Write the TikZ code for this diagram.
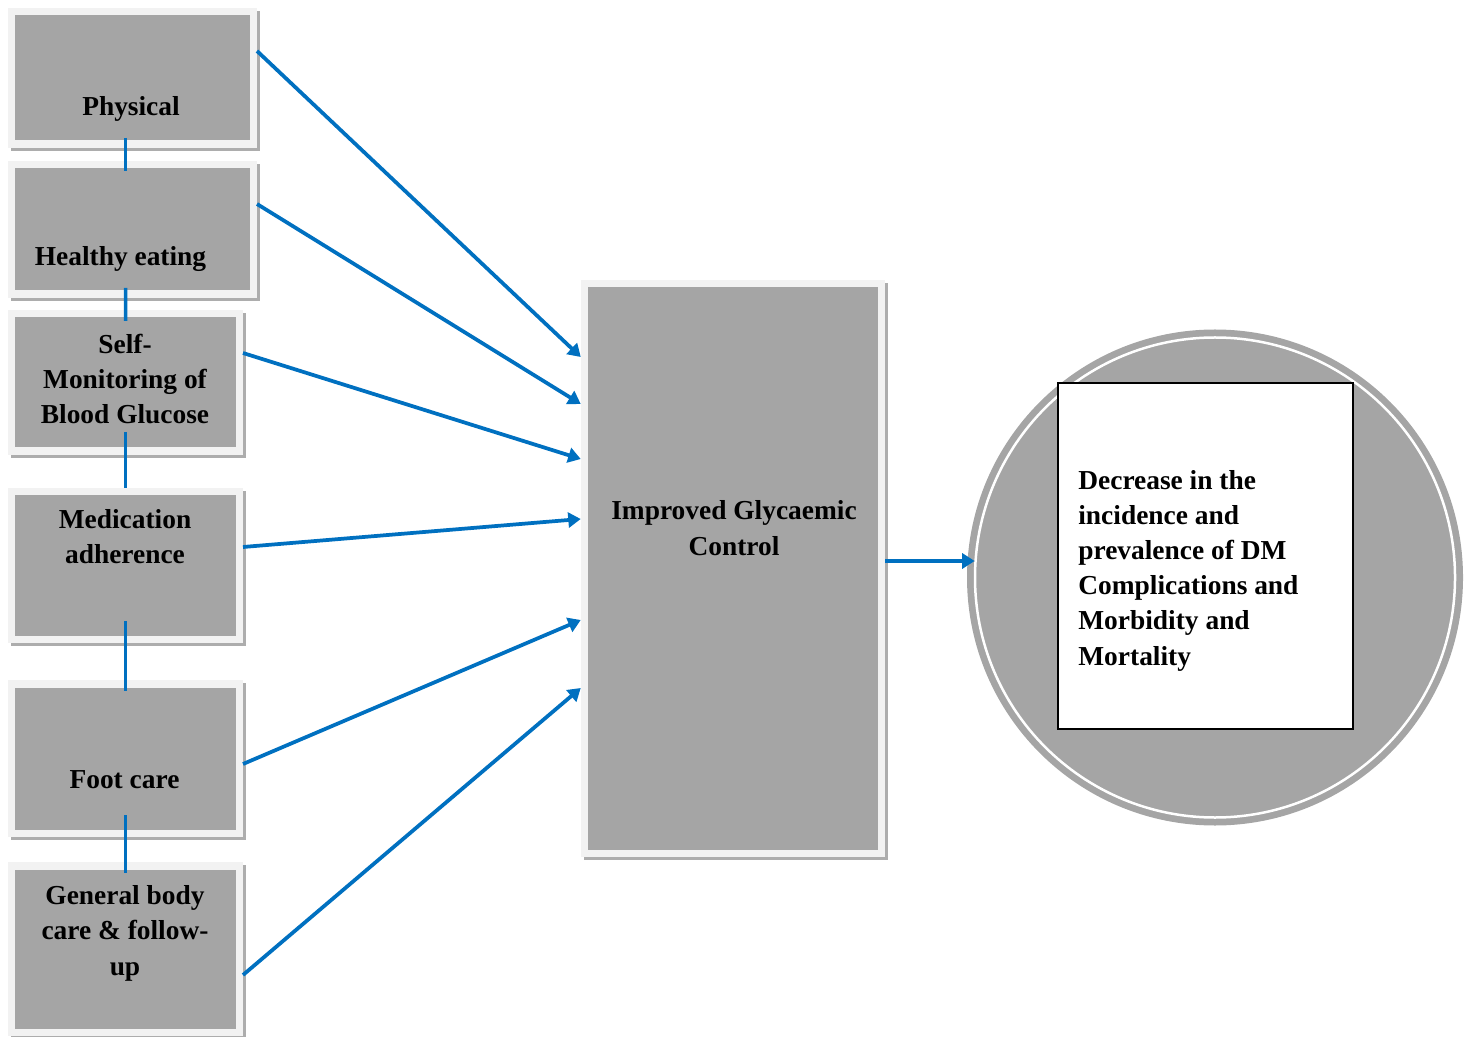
\documentclass[tikz,border=0pt]{standalone}
\usepackage{fontspec}
\setmainfont{Liberation Serif}
\usetikzlibrary{arrows.meta, shadows}

\definecolor{boxgray}{HTML}{A5A5A5}
\definecolor{boxrim}{HTML}{F2F2F2}
\definecolor{boxshade}{HTML}{ADADAD}
\definecolor{linkblue}{HTML}{0070C0}

\tikzset{
  carebox/.style={rectangle, fill=boxgray, draw=boxrim, line width=0.15cm, inner sep=0pt,
    drop shadow={shadow xshift=0.06cm, shadow yshift=-0.06cm, opacity=1,
      fill=boxshade, draw=boxshade, line width=0.15cm}},
  boxtext/.style={font=\fontsize{15.6}{20}\selectfont\bfseries, inner sep=0pt, anchor=base, align=center},
  flow/.style={draw=linkblue, line width=0.075cm, -{Triangle[length=0.25cm, width=0.3cm]}},
  link/.style={draw=linkblue, line width=0.07cm}
}

\begin{document}
\begin{tikzpicture}
  \useasboundingbox (0,0) rectangle (29.34,20.72);

  % Left column: self-care boxes
  \node[carebox, minimum width=4.83cm, minimum height=2.65cm] (phys) at (2.65,19.16) {};
  \node[carebox, minimum width=4.83cm, minimum height=2.59cm] (eat) at (2.65,16.13) {};
  \node[carebox, minimum width=4.55cm, minimum height=2.75cm] (smbg) at (2.51,13.07) {};
  \node[carebox, minimum width=4.55cm, minimum height=2.95cm] (med) at (2.51,9.41) {};
  \node[carebox, minimum width=4.55cm, minimum height=2.99cm] (foot) at (2.51,5.55) {};
  \node[carebox, minimum width=4.55cm, minimum height=3.33cm] (gen) at (2.51,1.74) {};

  % labels (multi-line ones sit on their last baseline)
  \node[boxtext] (physT) at (2.62,18.40) {Physical};
  \node[boxtext] (eatT) at (2.41,15.40) {Healthy eating};
  \node[boxtext] (smbgT) at (2.50,12.24) {Self-\\Monitoring of\\Blood Glucose};
  \node[boxtext] (medT) at (2.50,9.44) {Medication\\adherence};
  \node[boxtext] (footT) at (2.49,4.96) {Foot care};
  \node[boxtext] (genT) at (2.50,1.22) {General body\\care \& follow-\\up};

  % Links down the column
  \draw[link] ([xshift=-0.14cm,yshift=0.2cm]phys.south) -- ([xshift=-0.14cm,yshift=-0.2cm]eat.north);
  \draw[link] ([xshift=-0.14cm,yshift=0.2cm]eat.south) -- ([yshift=-0.22cm]smbg.north);
  \draw[link] ([yshift=0.46cm]smbg.south) -- (med.north);
  \draw[link] ([yshift=0.44cm]med.south) -- ([yshift=-0.22cm]foot.north);
  \draw[link] ([yshift=0.44cm]foot.south) -- ([yshift=-0.22cm]gen.north);

  % Middle: glycaemic control
  \node[carebox, minimum width=5.94cm, minimum height=11.4cm] (glyc) at (14.66,9.35) {};
  \node[boxtext] (glycT) at (14.68,9.62) {Improved Glycaemic\\Control};

  % Right: outcome circle
  \node[circle, fill=boxgray, minimum size=9.92cm, inner sep=0pt] (outc) at (24.30,9.17) {};
  \node[circle, draw=white, line width=0.05cm, minimum size=9.6cm, inner sep=0pt] (inc) at (outc) {};
  \node[rectangle, fill=white, draw=black, line width=0.03cm, minimum width=5.9cm, minimum height=6.92cm] (goal) at (24.11,9.60) {};
  \node[boxtext, anchor=base west, align=left] (goalT) at (21.56,7.42)
    {Decrease in the\\incidence and\\prevalence of DM\\Complications and\\Morbidity and\\Mortality};

  % Arrows into the middle box
  \draw[flow] ([yshift=0.54cm]phys.east) -- ([yshift=4.23cm]glyc.west);
  \draw[flow] ([yshift=0.51cm]eat.east) -- ([yshift=3.29cm]glyc.west);
  \draw[flow] ([yshift=0.59cm]smbg.east) -- ([yshift=2.19cm]glyc.west);
  \draw[flow] ([yshift=0.37cm]med.east) -- ([yshift=0.99cm]glyc.west);
  \draw[flow] ([yshift=-0.11cm]foot.east) -- ([yshift=-1.03cm]glyc.west);
  \draw[flow] ([yshift=-0.52cm]gen.east) -- ([yshift=-2.39cm]glyc.west);
  \draw[flow] ([yshift=0.15cm]glyc.east) -- ([xshift=0.16cm,yshift=0.33cm]outc.west);
\end{tikzpicture}
\end{document}
